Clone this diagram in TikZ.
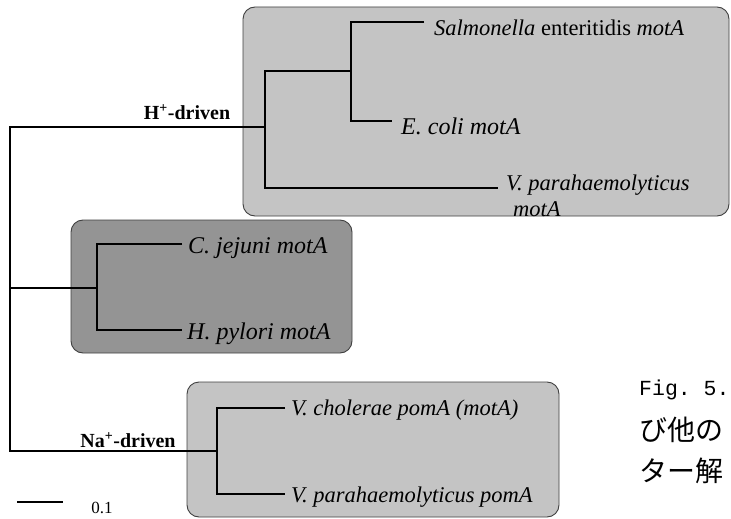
\documentclass[tikz,border=0pt]{standalone}
\usepackage{fontspec}
\setmainfont{Liberation Serif}
\setmonofont{Liberation Mono}
\newfontfamily\jpfont{Noto Sans CJK JP}

\begin{document}
\begin{tikzpicture}[x=1pt, y=-1pt,
	clade/.style={draw=black!75, line width=0.9pt, rounded corners=12pt},
	branch/.style={line width=1.7pt},
	taxon/.style={anchor=west, inner sep=0pt, font=\fontsize{22.5}{26}\selectfont\itshape},
	bigtaxon/.style={taxon, font=\fontsize{24}{27}\selectfont\itshape},
	ion/.style={inner sep=0pt, font=\fontsize{20}{22}\selectfont\bfseries},
	caption/.style={anchor=west, inner sep=0pt}]
	%%%%% START %%%%%
	\useasboundingbox (0,0) rectangle (731,519);
	
	\draw[clade, fill=black!23] (243,7) rectangle (729,216);
	\draw[clade, fill=black!42] (71,220) rectangle (352,353);
	\draw[clade, fill=black!23] (187,382) rectangle (559,517);
	
	\coordinate (root) at (10,127);
	\coordinate (hplus) at (265,127);
	\coordinate (enteric) at (351,71);
	\coordinate (epsilon) at (97,288);
	\coordinate (naplus) at (217,451);
	\coordinate (salm) at (424,22);
	\coordinate (ecoli) at (392,121);
	\coordinate (vpmot) at (498,188);
	\coordinate (cjej) at (182,244);
	\coordinate (hpyl) at (182,330);
	\coordinate (vchol) at (285,408);
	\coordinate (vppom) at (285,494);
	\coordinate (scalea) at (17,502);
	\coordinate (scaleb) at (63,502);
	
	\draw[branch] (hplus) -- (root) -- (naplus -| root) -- (naplus);
	\draw[branch] (epsilon -| root) -- (epsilon);
	\draw[branch] (enteric) -| (hplus) |- (vpmot);
	\draw[branch] (salm) -| (enteric) |- (ecoli);
	\draw[branch] (cjej) -| (epsilon) |- (hpyl);
	\draw[branch] (vchol) -| (naplus) |- (vppom);
	
	\node[taxon] (salmlab) at (434,28) {Salmonella \textup{enteritidis} motA};
	\node[bigtaxon] (ecolilab) at (401,126) {E. coli motA};
	\node[taxon, align=left] (vpmotlab) at (506,196) {V. parahaemolyticus\\\hspace*{7pt}motA};
	\node[bigtaxon] (cjejlab) at (188,248) {C. jejuni motA};
	\node[bigtaxon] (hpyllab) at (187,334) {H. pylori motA};
	\node[taxon] (vchollab) at (291,410) {V. cholerae pomA (motA)};
	\node[taxon] (vppomlab) at (291,497) {V. parahaemolyticus pomA};
	
	\node[ion] (hlab) at (187,112) {H\textsuperscript{+}-driven};
	\node[ion] (nalab) at (128,440) {Na\textsuperscript{+}-driven};
	
	\draw[line width=1.2pt] (scalea) -- (scaleb);
	\node[inner sep=0pt, font=\fontsize{17}{20}\selectfont] (scalelab) at (102,508) {0.1};
	
	\node[caption, font=\ttfamily\fontsize{21.5}{26}\selectfont] (fig) at (639,390) {Fig. 5.};
	\node[caption, font=\jpfont\fontsize{28}{32}\selectfont] (jpa) at (639,430) {び他の};
	\node[caption, font=\jpfont\fontsize{28}{32}\selectfont] (jpb) at (639,471) {ター解};
	%%%%% END %%%%%
\end{tikzpicture}
\end{document}
